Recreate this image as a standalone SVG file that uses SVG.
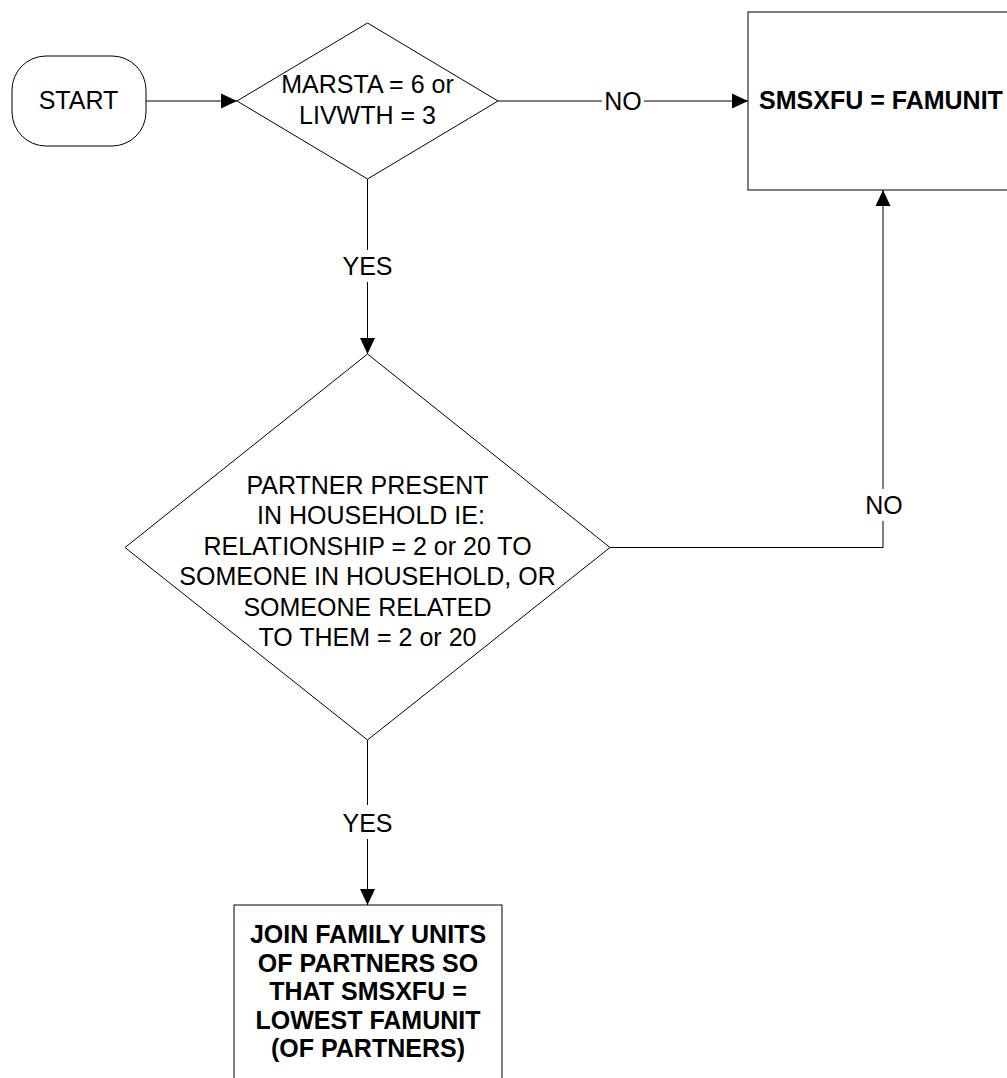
<svg xmlns="http://www.w3.org/2000/svg" width="1007" height="1078" viewBox="0 0 1007 1078">
<style>
.shape{fill:#fff;stroke:#000;stroke-width:1}
.conn{fill:none;stroke:#000;stroke-width:1}
text{font-family:"Liberation Sans",Arial,sans-serif;font-size:25px;fill:#000;text-anchor:middle}
.b{font-weight:bold}
</style>
<defs>
<marker id="arr" markerUnits="userSpaceOnUse" markerWidth="16" markerHeight="16" refX="16" refY="8" orient="auto" viewBox="0 0 16 16">
<path d="M0,0.5 L16,8 L0,15.5 z" fill="#000"/>
</marker>
</defs>
<rect width="1007" height="1078" fill="#fff"/>
<g id="connectors">
<path class="conn" d="M146,101 H237" marker-end="url(#arr)"/>
<path class="conn" d="M498,101 H602 M644,101 H748" marker-end="url(#arr)"/>
<text x="623" y="109.5">NO</text>
<path class="conn" d="M367.5,179 V250 M367.5,282 V354" marker-end="url(#arr)"/>
<text x="367.5" y="274.5">YES</text>
<path class="conn" d="M610,547.5 H883 V521 M883,489 V190" marker-end="url(#arr)"/>
<text x="884" y="513.5">NO</text>
<path class="conn" d="M367.5,740 V805 M367.5,839 V905" marker-end="url(#arr)"/>
<text x="367.5" y="831.5">YES</text>
</g>
<g id="start">
<rect class="shape" x="12" y="56" width="134" height="90" rx="34" ry="34"/>
<text x="78.5" y="108.5">START</text>
</g>
<g id="decision1">
<polygon class="shape" points="367.5,23 498,101 367.5,179 237,101"/>
<text x="367.5" y="93">MARSTA = 6 or</text>
<text x="367.5" y="124">LIVWTH = 3</text>
</g>
<g id="famunit">
<rect class="shape" x="748" y="12" width="268" height="178"/>
<text class="b" x="881" y="108.5">SMSXFU = FAMUNIT</text>
</g>
<g id="decision2">
<polygon class="shape" points="367.5,354 610,547.5 367.5,740 125,547.5"/>
<text x="367.5" y="494">PARTNER PRESENT</text>
<text x="371" y="524.4">IN HOUSEHOLD IE:</text>
<text x="367.5" y="554.8">RELATIONSHIP = 2 or 20 TO</text>
<text x="367.5" y="585.2">SOMEONE IN HOUSEHOLD, OR</text>
<text x="367.5" y="615.6">SOMEONE RELATED</text>
<text x="367.5" y="646">TO THEM = 2 or 20</text>
</g>
<g id="join">
<rect class="shape" x="234" y="905" width="268" height="200"/>
<text class="b" x="368" y="943">JOIN FAMILY UNITS</text>
<text class="b" x="368" y="971.6">OF PARTNERS SO</text>
<text class="b" x="368" y="1000.2">THAT SMSXFU =</text>
<text class="b" x="368" y="1028.8">LOWEST FAMUNIT</text>
<text class="b" x="368" y="1057.4">(OF PARTNERS)</text>
</g>
</svg>
